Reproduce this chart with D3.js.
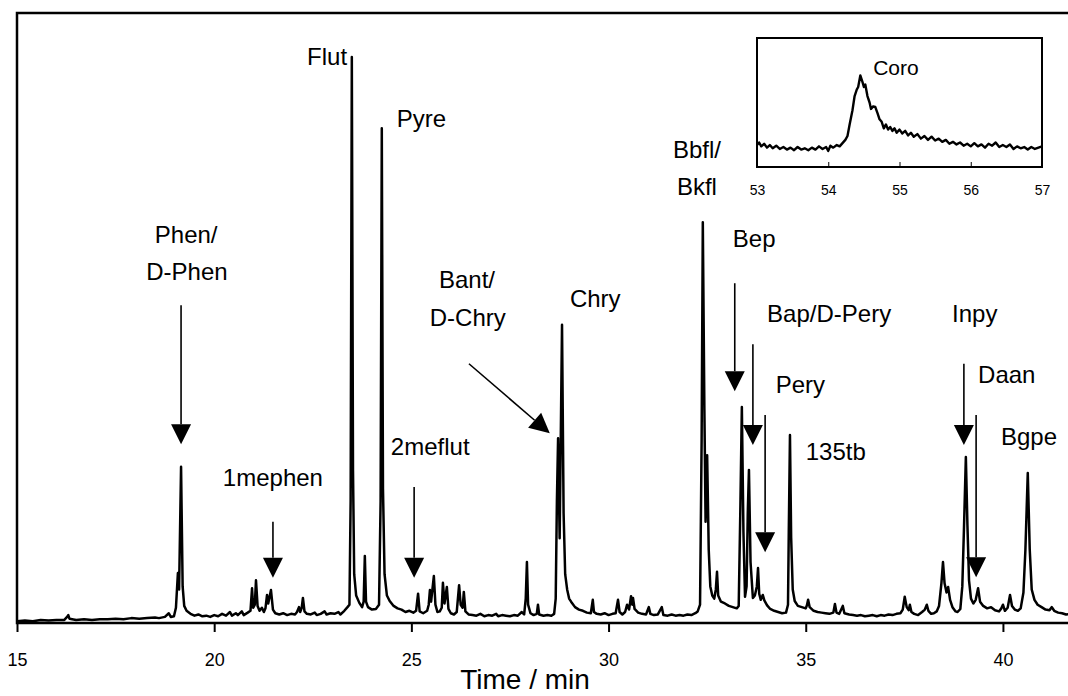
<html>
<head>
  <style type="text/css">
    body { margin: 0; background: #fff; }
    svg text { font-family: "Liberation Sans", Arial, sans-serif; fill: #000; }
    .axis path { display: none; }
    .axis line { stroke: #000; stroke-width: 2; }
  </style>
</head>
<body>
  <div id="viz">
    <svg width="1068" height="696"></svg>
  </div>
  <script src="https://cdnjs.cloudflare.com/ajax/libs/d3/7.8.5/d3.min.js"></script>
  <script>
  // chromatogram, time (min) vs relative signal (% of full scale)
  const timeTicks = [15, 20, 25, 30, 35, 40];
  const insetTicks = [53, 54, 55, 56, 57];

  const trace = [
    [15.0,0.3],[15.2,0.4],[15.4,0.3],[15.6,0.5],[15.8,0.4],[16.0,0.5],[16.2,0.5],[16.27,1.0],[16.3,1.3],[16.33,0.7],
    [16.5,0.5],[16.7,0.6],[16.9,0.5],[17.1,0.6],[17.3,0.6],[17.5,0.7],[17.7,0.6],[17.9,0.8],[18.1,0.7],[18.3,0.8],
    [18.5,0.9],[18.6,0.8],[18.75,1.0],[18.85,1.6],[18.9,1.0],[18.98,1.1],
    [19.03,2.5],[19.08,8.2],[19.11,5.5],[19.16,25.6],[19.2,6.0],[19.24,2.8],[19.3,2.0],[19.4,1.5],[19.5,1.2],[19.6,1.4],
    [19.7,1.1],[19.8,1.2],[19.9,1.0],[20.0,1.3],[20.1,1.1],[20.2,1.5],[20.3,1.2],[20.4,1.8],[20.45,1.2],[20.55,1.6],
    [20.6,1.3],[20.7,1.9],[20.75,1.3],[20.85,1.7],
    [20.92,2.0],[20.96,5.7],[20.99,2.5],[21.03,3.0],[21.06,7.0],[21.1,2.8],[21.15,2.0],[21.21,2.5],[21.26,1.8],[21.3,2.4],
    [21.34,4.6],[21.37,3.2],[21.44,5.4],[21.49,2.2],[21.55,1.6],[21.65,1.4],[21.75,1.6],[21.85,1.3],[21.95,1.5],[22.05,1.4],
    [22.1,1.8],[22.15,2.6],[22.18,1.8],[22.22,2.5],[22.25,4.1],[22.29,1.9],[22.35,1.5],[22.45,1.4],[22.55,1.7],[22.6,1.3],
    [22.7,1.5],[22.8,1.9],[22.85,1.4],[22.95,1.6],[23.05,1.5],[23.15,1.8],[23.2,1.4],[23.3,2.0],[23.38,2.6],[23.43,3.0],
    [23.46,20],[23.49,92.8],[23.52,25],[23.55,8],[23.6,4.5],[23.68,3.3],[23.75,2.6],[23.79,3.5],[23.82,11.0],[23.85,3.5],
    [23.9,2.6],[24.0,2.2],[24.1,2.3],[24.18,3.0],
    [24.22,20],[24.25,81.1],[24.28,22],[24.32,8],[24.38,4.5],[24.45,3.6],[24.55,2.8],[24.65,2.4],[24.75,2.2],[24.85,1.8],
    [24.95,2.0],[25.05,1.7],[25.12,2.0],[25.17,4.8],[25.21,1.9],[25.3,1.6],[25.4,2.0],[25.44,3.0],[25.47,5.4],[25.5,3.5],
    [25.57,7.7],[25.61,3.0],[25.66,1.8],[25.72,1.9],[25.77,2.5],[25.8,6.6],[25.84,3.2],[25.9,5.9],[25.94,2.3],[26.0,1.6],
    [26.08,1.4],[26.15,1.8],[26.21,6.2],[26.25,3.0],[26.3,2.5],[26.33,5.1],[26.37,1.9],[26.45,1.4],[26.55,1.3],[26.65,1.2],
    [26.75,1.5],[26.85,1.1],[26.95,1.3],[27.05,1.2],[27.15,1.5],[27.2,1.1],[27.3,1.3],[27.4,1.2],[27.5,1.1],[27.6,1.3],
    [27.7,1.2],[27.8,1.8],[27.86,1.4],[27.9,4.0],[27.93,10.0],[27.96,3.0],[28.02,1.6],[28.1,1.3],[28.18,1.5],[28.21,3.0],
    [28.24,1.4],[28.35,1.2],[28.45,1.3],[28.55,1.2],[28.62,1.5],[28.66,4],
    [28.69,20],[28.72,30.3],[28.76,13.9],[28.82,48.9],[28.86,18],[28.9,8],[28.95,5.5],[29.0,4.0],[29.05,3.5],[29.15,2.6],
    [29.25,2.2],[29.35,2.0],[29.45,1.7],[29.55,1.6],[29.6,3.8],[29.63,1.8],[29.7,1.5],[29.8,1.4],[29.9,1.6],[30.0,1.3],
    [30.1,1.5],[30.18,1.6],[30.24,3.8],[30.28,1.8],[30.35,1.4],[30.42,1.8],[30.47,3.0],[30.52,2.2],[30.57,4.4],[30.6,3.0],
    [30.62,4.1],[30.66,2.3],[30.75,1.7],[30.85,1.5],[30.95,1.4],[31.02,2.6],[31.06,1.5],[31.15,1.3],[31.25,1.4],[31.35,2.6],
    [31.39,1.3],[31.5,1.2],[31.6,1.4],[31.7,1.2],[31.8,1.3],[31.9,1.2],[32.0,1.4],[32.1,1.3],[32.2,1.6],[32.26,1.9],[32.32,3],
    [32.36,30],[32.39,65.7],[32.43,35],[32.46,16.6],[32.5,27.5],[32.54,12],[32.58,6],[32.63,4.5],[32.68,4.0],[32.72,5.5],
    [32.75,8.4],[32.78,4.5],[32.85,3.5],[32.95,3.2],[33.05,2.8],[33.15,2.6],[33.25,2.4],[33.3,2.8],
    [33.34,18],[33.38,35.4],[33.42,15],[33.46,4.3],[33.5,6],[33.53,18],[33.56,25.1],[33.6,10],[33.66,4.1],[33.71,4.5],
    [33.76,6],[33.79,9.0],[33.82,4.8],[33.86,3.8],[33.91,4.6],[33.95,3.7],[34.02,2.9],[34.1,2.3],[34.2,2.0],[34.3,1.8],
    [34.4,1.6],[34.5,1.7],[34.55,3],
    [34.57,15],[34.6,30.8],[34.63,14],[34.67,5.5],[34.72,3.6],[34.8,2.8],[34.9,2.6],[35.0,2.4],[35.03,2.9],[35.06,3.8],
    [35.1,2.6],[35.2,2.0],[35.3,1.8],[35.4,1.7],[35.5,1.6],[35.6,1.5],[35.7,1.7],[35.74,3.1],[35.78,1.7],[35.85,1.5],
    [35.94,2.8],[35.98,1.6],[36.1,1.4],[36.2,1.3],[36.3,1.2],[36.4,1.3],[36.5,1.1],[36.6,1.2],[36.7,1.3],[36.8,1.1],
    [36.9,1.3],[37.0,1.2],[37.1,1.4],[37.2,1.3],[37.3,1.5],[37.4,1.6],[37.46,2.2],[37.51,4.3],[37.56,2.6],[37.61,2.1],
    [37.64,3.0],[37.68,1.8],[37.75,1.5],[37.85,1.3],[37.95,1.8],[38.02,2.2],[38.07,3.0],[38.11,2.0],[38.18,1.5],[38.25,1.6],
    [38.32,1.9],[38.38,2.8],[38.44,6.5],[38.48,10.0],[38.52,6.5],[38.57,5.0],[38.61,5.9],[38.66,3.8],[38.72,2.6],[38.8,1.9],
    [38.85,1.8],[38.92,2.3],[38.97,6],[39.01,15],[39.06,27.2],[39.1,16],[39.14,7],[39.19,4.0],[39.25,3.2],[39.31,3.8],
    [39.37,5.7],[39.42,3.5],[39.5,2.8],[39.6,2.4],[39.7,2.6],[39.8,2.1],[39.9,1.9],[39.96,2.4],[40.0,3.0],[40.05,2.0],
    [40.12,2.5],[40.18,4.6],[40.23,2.8],[40.3,2.2],[40.38,2.0],[40.45,2.4],[40.52,5],[40.57,12],[40.63,24.6],[40.68,12],
    [40.73,5.5],[40.8,3.8],[40.88,3.0],[40.98,2.6],[41.08,2.2],[41.18,2.1],[41.24,2.6],[41.3,2.0],[41.4,1.7],[41.5,1.6],
    [41.6,1.4],[41.7,1.5]
  ];

  // coronene window (inset)
  const coro = [
    [53.0,17],[53.03,19],[53.06,16],[53.1,18],[53.14,15],[53.18,17],[53.22,14.5],[53.27,16.5],[53.32,14],[53.37,15.5],
    [53.42,13.5],[53.47,15],[53.52,13],[53.57,15.5],[53.62,13.5],[53.67,14.5],[53.72,13],[53.77,15],[53.82,13.5],[53.87,16],
    [53.92,14],[53.97,15.5],[54.0,12.5],[54.03,16.5],[54.07,15],[54.12,17],[54.16,16],[54.2,18.5],[54.24,21],[54.27,24],
    [54.3,33],[54.34,44],[54.37,55],[54.4,60],[54.42,62],[54.45,71],[54.48,66],[54.5,62],[54.52,64],[54.55,55],
    [54.58,50],[54.6,45],[54.63,47],[54.66,46.5],[54.69,42],[54.72,37],[54.75,35],[54.78,30],[54.81,33],[54.84,29],
    [54.87,31],[54.9,28],[54.93,30],[54.96,26.5],[55.0,29],[55.04,26],[55.08,28],[55.12,24.5],[55.16,26.5],[55.2,23.5],
    [55.25,25.5],[55.3,22],[55.35,24],[55.4,21],[55.45,23.5],[55.5,20.5],[55.55,22],[55.6,19.5],[55.65,21],[55.7,18],
    [55.75,19.5],[55.8,17.5],[55.85,19],[55.9,16.5],[55.95,18],[56.0,16],[56.05,18.5],[56.1,16],[56.15,17.5],[56.2,15],
    [56.25,18],[56.3,16.5],[56.35,19],[56.4,15.5],[56.45,17],[56.5,15.5],[56.55,17.5],[56.6,14],[56.65,16],[56.7,14.5],
    [56.75,15.5],[56.8,13.5],[56.85,15.5],[56.9,14],[56.95,15],[57.0,16]
  ];

  // peak labels: text, time, signal level of baseline, anchor
  const labels = [
    ["Phen/", 19.29, 62.3, "middle"], ["D-Phen", 19.31, 56.2, "middle"],
    ["1mephen", 20.22, 22.5, "start"],
    ["Flut", 23.37, 91.5, "end"],
    ["Pyre", 24.63, 81.3, "start"],
    ["2meflut", 24.48, 27.5, "start"],
    ["Bant/", 26.41, 54.9, "middle"], ["D-Chry", 26.43, 48.7, "middle"],
    ["Chry", 29.02, 51.8, "start"],
    ["Bbfl/", 32.24, 76.2, "middle"], ["Bkfl", 32.24, 70.2, "middle"],
    ["Bep", 33.15, 61.6, "start"],
    ["Bap/D-Pery", 34.02, 49.3, "start"],
    ["Pery", 34.24, 37.7, "start"],
    ["135tb", 35.0, 26.7, "start"],
    ["Inpy", 38.71, 49.3, "start"],
    ["Daan", 39.37, 39.3, "start"],
    ["Bgpe", 39.95, 29.2, "start"]
  ];

  // arrows: [t0, v0, t1, v1] from tail to tip
  const arrows = [
    [19.16, 52.1, 19.16, 29.3],
    [21.49, 16.6, 21.49, 7.4],
    [25.07, 22.3, 25.07, 7.4],
    [26.46, 42.5, 28.51, 31.1],
    [33.20, 55.7, 33.20, 38.0],
    [33.66, 45.7, 33.66, 29.2],
    [33.97, 34.1, 33.97, 11.6],
    [39.01, 42.5, 39.01, 29.2],
    [39.32, 34.1, 39.32, 7.5]
  ];

  const svg = d3.select("svg");
  const plotLeft = 17, plotTop = 13, plotRight = 1068, plotBottom = 623;

  const x = d3.scaleLinear().domain([15, 41.65]).range([plotLeft, plotRight]);
  const y = d3.scaleLinear().domain([0, 100]).range([plotBottom, plotTop]);

  // frame: left and top border, bottom axis line (cut on the right)
  svg.append("path")
    .attr("d", `M${plotRight},${plotTop}H${plotLeft}V${plotBottom}H${plotRight}`)
    .attr("fill", "none")
    .attr("stroke", "#000")
    .attr("stroke-width", 2.5);

  const xAxis = svg.append("g")
    .attr("class", "axis")
    .attr("transform", `translate(0,${plotBottom})`)
    .call(d3.axisBottom(x).tickValues(timeTicks).tickSize(9).tickPadding(21));
  xAxis.selectAll("text").style("font-size", "18px");

  svg.append("text")
    .attr("x", 525)
    .attr("y", 689)
    .attr("text-anchor", "middle")
    .style("font-size", "28px")
    .text("Time / min");

  const line = d3.line()
    .x(d => x(d[0]))
    .y(d => y(d[1]));

  svg.append("path")
    .datum(trace)
    .attr("d", line)
    .attr("fill", "none")
    .attr("stroke", "#000")
    .attr("stroke-width", 2.5)
    .attr("stroke-linejoin", "round");

  // arrows
  const head = 20;
  arrows.forEach(a => {
    const x0 = x(a[0]), y0 = y(a[1]), x1 = x(a[2]), y1 = y(a[3]);
    const ang = Math.atan2(y1 - y0, x1 - x0);
    const bx = x1 - head * Math.cos(ang), by = y1 - head * Math.sin(ang);
    const px = -Math.sin(ang) * head / 2, py = Math.cos(ang) * head / 2;
    svg.append("line")
      .attr("x1", x0).attr("y1", y0).attr("x2", bx).attr("y2", by)
      .attr("stroke", "#000").attr("stroke-width", 1.6);
    svg.append("path")
      .attr("d", `M${x1},${y1}L${bx + px},${by + py}L${bx - px},${by - py}Z`)
      .attr("fill", "#000");
  });

  svg.selectAll(".peak-label")
    .data(labels)
    .enter().append("text")
    .attr("class", "peak-label")
    .attr("x", d => x(d[1]))
    .attr("y", d => y(d[2]))
    .attr("text-anchor", d => d[3])
    .style("font-size", "24px")
    .text(d => d[0]);

  // inset
  const ix = d3.scaleLinear().domain([53, 57]).range([757, 1042]);
  const iy = d3.scaleLinear().domain([0, 100]).range([167, 38]);

  // white panel of the inset overlaps the top of the "Bep" label
  svg.append("rect")
    .attr("x", 745).attr("y", 26).attr("width", 323).attr("height", 207)
    .attr("fill", "#fff");

  svg.append("path")
    .datum(coro)
    .attr("d", d3.line().x(d => ix(d[0])).y(d => iy(d[1])))
    .attr("fill", "none")
    .attr("stroke", "#000")
    .attr("stroke-width", 2.4)
    .attr("stroke-linejoin", "round");

  const inAxis = svg.append("g")
    .attr("class", "axis")
    .attr("transform", "translate(0,167)")
    .call(d3.axisBottom(ix).tickValues(insetTicks).tickFormat(d3.format("d")).tickSize(-5).tickPadding(18));
  inAxis.selectAll("line").style("stroke-width", 1);
  inAxis.selectAll("text").style("font-size", "14px");

  svg.append("rect")
    .attr("x", 757).attr("y", 38).attr("width", 285).attr("height", 129)
    .attr("fill", "none")
    .attr("stroke", "#000")
    .attr("stroke-width", 2);

  svg.append("text")
    .attr("x", ix(54.63))
    .attr("y", iy(71.3))
    .style("font-size", "21px")
    .text("Coro");
  </script>
</body>
</html>
